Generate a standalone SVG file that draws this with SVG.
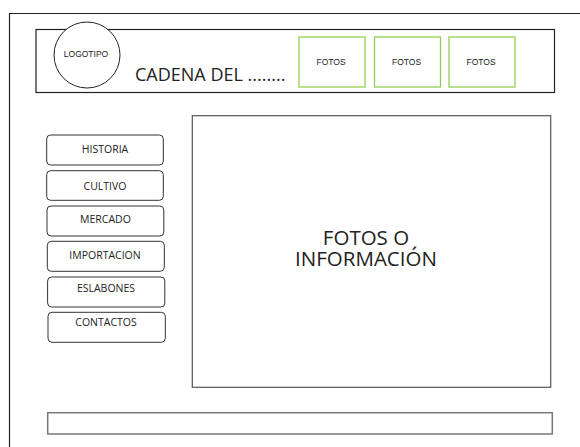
<svg xmlns="http://www.w3.org/2000/svg" width="580" height="447" viewBox="0 0 580 447">
<style>
.frame{fill:none;stroke:#222;stroke-width:1.2}
.box{fill:#fff;stroke:#555;stroke-width:1.2}
.green{fill:#fff;stroke:#92d050;stroke-width:1.3}
.btn{fill:#fff;stroke:#333;stroke-width:1}
.sm{font-family:"Liberation Sans",Arial,sans-serif;font-size:8.5px;fill:#222;text-anchor:middle}
.menu{font-family:"Open Sans","Noto Sans",sans-serif;font-size:10.5px;fill:#222;text-anchor:middle}
.big{font-family:"Open Sans","Noto Sans",sans-serif;fill:#222}
</style>
<rect width="580" height="447" fill="#fff"/>
<g id="frame">
<path class="frame" d="M9.5,447 V13.5 H580"/>
</g>
<g id="header">
<rect x="36" y="29.5" width="518.5" height="63" fill="#fff" stroke="#222" stroke-width="1.2"/>
</g>
<g id="logo">
<circle cx="87" cy="55" r="33" fill="#fff" stroke="#222" stroke-width="1"/>
<text class="sm" x="86" y="57">LOGOTIPO</text>
</g>
<g id="title">
<text class="big" x="135" y="81" font-size="18">CADENA DEL ........</text>
</g>
<g id="fotos1"><rect class="green" x="299" y="37" width="66" height="50"/><text class="sm" x="331" y="65">FOTOS</text></g>
<g id="fotos2"><rect class="green" x="374.5" y="37" width="66" height="50"/><text class="sm" x="406.5" y="65">FOTOS</text></g>
<g id="fotos3"><rect class="green" x="449" y="37" width="66" height="50"/><text class="sm" x="481" y="65">FOTOS</text></g>
<g id="historia"><rect class="btn" x="46.7" y="135" width="116.6" height="30" rx="4"/><text class="menu" x="105" y="153.3">HISTORIA</text></g>
<g id="cultivo"><rect class="btn" x="46.7" y="170.7" width="116.6" height="29.6" rx="4"/><text class="menu" x="105" y="189.5">CULTIVO</text></g>
<g id="mercado"><rect class="btn" x="47" y="206" width="116.8" height="30" rx="4"/><text class="menu" x="105.5" y="223">MERCADO</text></g>
<g id="importacion"><rect class="btn" x="47.3" y="241.3" width="117" height="30" rx="4"/><text class="menu" x="105" y="259">IMPORTACION</text></g>
<g id="eslabones"><rect class="btn" x="47.6" y="277" width="117.2" height="30" rx="4"/><text class="menu" x="106" y="292">ESLABONES</text></g>
<g id="contactos"><rect class="btn" x="48" y="312.3" width="117.3" height="30" rx="4"/><text class="menu" x="106" y="325.5">CONTACTOS</text></g>
<g id="content">
<rect class="box" x="192.3" y="115.7" width="358.4" height="271.6"/>
<text class="big" font-size="20.5" x="366" y="245" text-anchor="middle">FOTOS O</text>
<text class="big" font-size="20.5" x="366" y="266" text-anchor="middle">INFORMACIÓN</text>
</g>
<g id="footer">
<rect x="47.7" y="412.7" width="504.6" height="21.3" fill="#fff" stroke="#777" stroke-width="1.5"/>
</g>
<g id="connectors"></g>
</svg>
